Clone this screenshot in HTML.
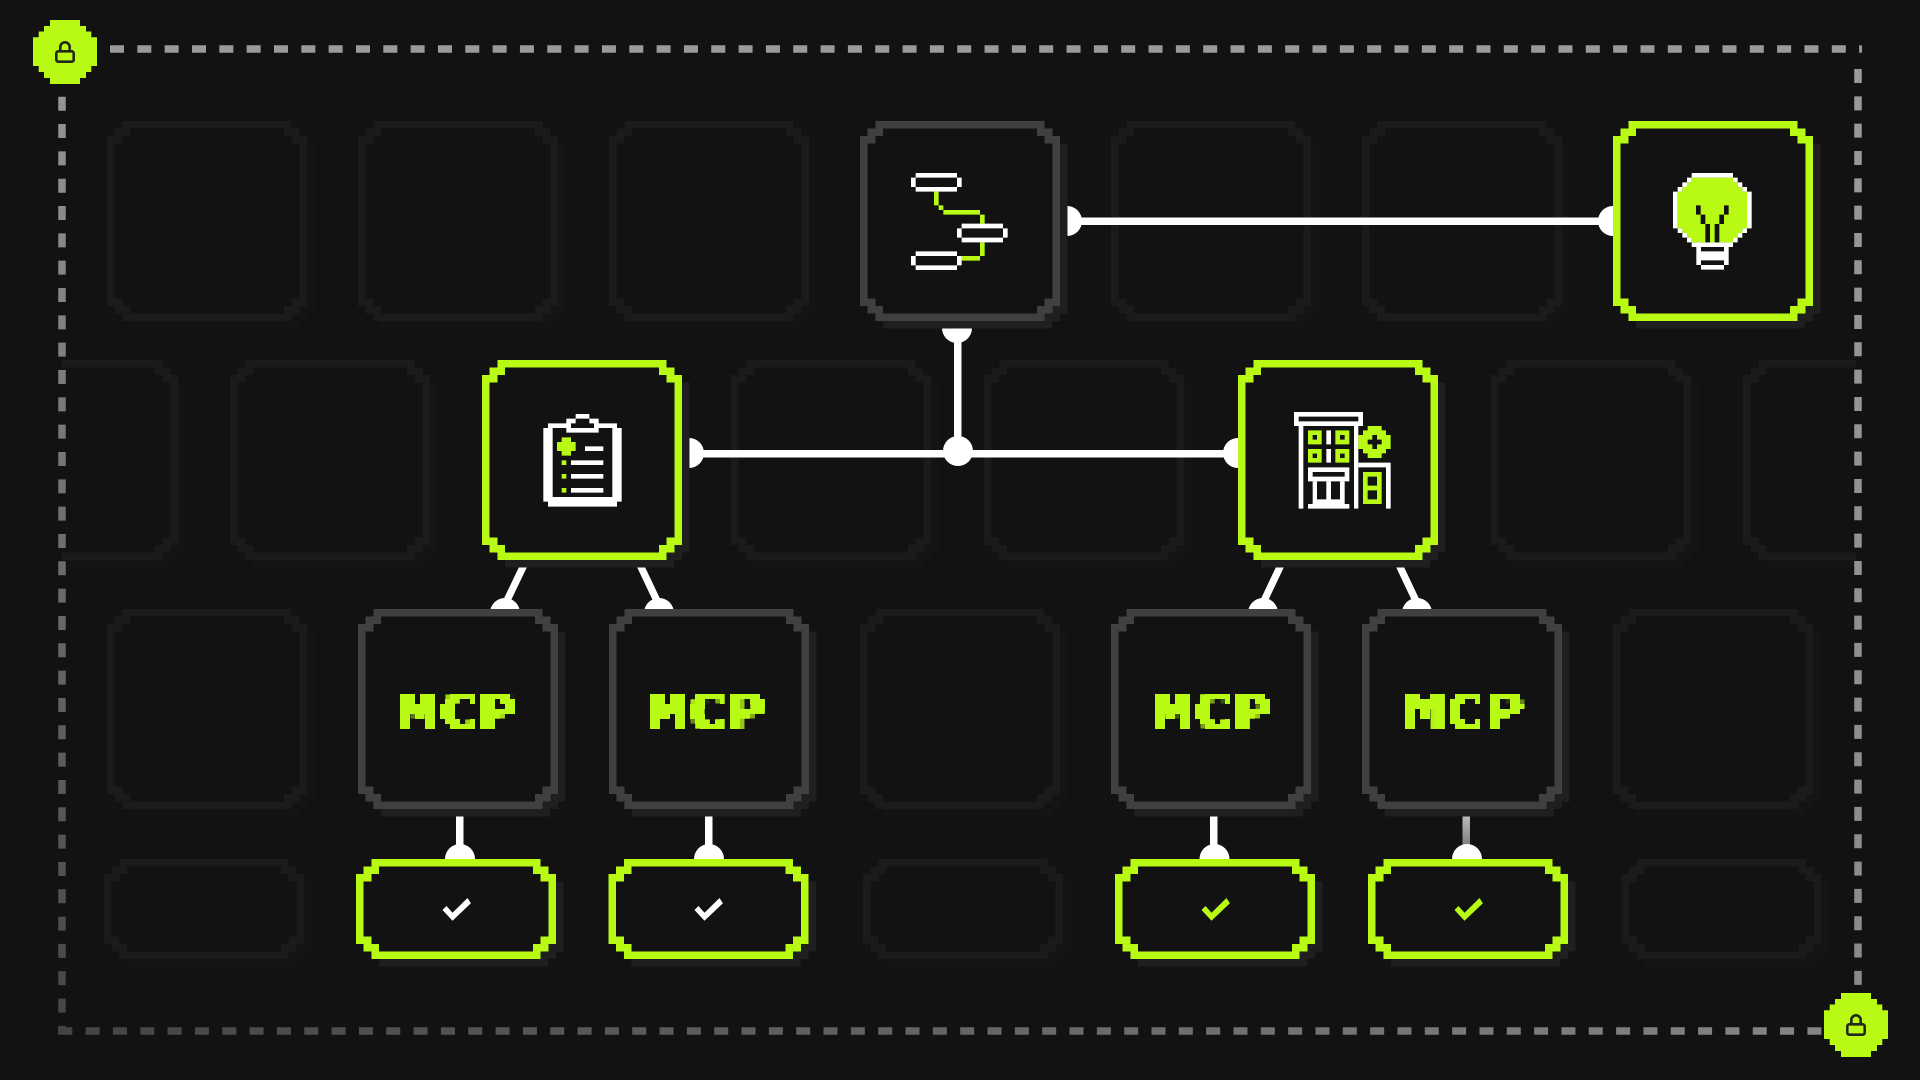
<!DOCTYPE html>
<html lang="en"><head><meta charset="utf-8"><title>Diagram</title>
<style>html,body{margin:0;padding:0;background:#121212;width:1920px;height:1080px;overflow:hidden}svg{display:block}
.mcp{font-family:"DejaVu Sans Mono","Liberation Mono",monospace;font-weight:bold;font-size:48px;fill:#b8fa14;stroke:#b8fa14;stroke-width:1.6px;text-anchor:middle}</style></head>
<body>
<svg width="1920" height="1080" viewBox="0 0 1920 1080" xmlns="http://www.w3.org/2000/svg">
<defs>
<path id="o2" d="M15.5 0H184.5V7.5H192.5V15H200V185H192.5V192.5H184.5V200H15.5V192.5H7.5V185H0V15H7.5V7.5H15.5Z"/>
<path id="f2" fill-rule="evenodd" d="M15.5 0H184.5V7.5H192.5V15H200V185H192.5V192.5H184.5V200H15.5V192.5H7.5V185H0V15H7.5V7.5H15.5ZM23 7.5H177V15H184.5V22.5H192.5V177.5H184.5V185H177V192.5H23V185H15.5V177.5H7.5V22.5H15.5V15H23Z"/>
<path id="o1" d="M15.5 0H184.5V7.5H192.5V15H200V85H192.5V92.5H184.5V100H15.5V92.5H7.5V85H0V15H7.5V7.5H15.5Z"/>
<path id="f1" fill-rule="evenodd" d="M15.5 0H184.5V7.5H192.5V15H200V85H192.5V92.5H184.5V100H15.5V92.5H7.5V85H0V15H7.5V7.5H15.5ZM23 7.5H177V15H184.5V22.5H192.5V77.5H184.5V85H177V92.5H23V85H15.5V77.5H7.5V22.5H15.5V15H23Z"/>
<g id="n2g"><use href="#o2" x="7.5" y="7.5" fill="#1f1f1f"/><use href="#o2" fill="#121212"/><use href="#f2" fill="#b8fa14"/></g>
<g id="n2k"><use href="#o2" x="7.5" y="7.5" fill="#1f1f1f"/><use href="#o2" fill="#121212"/><use href="#f2" fill="#404040"/></g>
<g id="n1g"><use href="#o1" x="7.5" y="7.5" fill="#1f1f1f"/><use href="#o1" fill="#121212"/><use href="#f1" fill="#b8fa14"/></g>
<g id="g2"><use href="#o2" x="7.5" y="7.5" fill="#141414"/><use href="#o2" fill="#121212"/><use href="#f2" fill="#1b1b1b"/></g>
<g id="g1"><use href="#o1" x="7.5" y="7.5" fill="#141414"/><use href="#o1" fill="#121212"/><use href="#f1" fill="#1b1b1b"/></g>
<g id="lock"><path fill="#b8fa14" d="M17 0H47V6H53V11.5H58.3V17.3H64V46H58.3V52H53V58H47V64H17V58H11V52H5.7V46H0V17.3H5.7V11.5H11V6H17Z"/>
<rect x="23.3" y="31.3" width="17.4" height="10.4" rx="2" fill="none" stroke="#23281a" stroke-width="2.6"/><path d="M27.3 31V27a4.7 4.7 0 0 1 9.4 0V31" fill="none" stroke="#23281a" stroke-width="2.6"/></g>
<path id="chk" d="M86.5 51L96.5 61.7L114.9 44.3L111.5 39L96.5 53.7L90.5 47Z"/>
<clipPath id="cl"><rect x="62" y="0" width="1794" height="1080"/></clipPath>
<linearGradient id="dT" gradientUnits="userSpaceOnUse" x1="110" y1="0" x2="1862" y2="0"><stop offset="0" stop-color="#9a9a9a"/><stop offset="1" stop-color="#9a9a9a"/></linearGradient>
<linearGradient id="dL" gradientUnits="userSpaceOnUse" x1="0" y1="96" x2="0" y2="1034"><stop offset="0" stop-color="#959595"/><stop offset="1" stop-color="#444"/></linearGradient>
<linearGradient id="dB" gradientUnits="userSpaceOnUse" x1="60" y1="0" x2="1820" y2="0"><stop offset="0" stop-color="#444"/><stop offset="1" stop-color="#858585"/></linearGradient>
<linearGradient id="dR" gradientUnits="userSpaceOnUse" x1="0" y1="49" x2="0" y2="990"><stop offset="0" stop-color="#9a9a9a"/><stop offset="1" stop-color="#8a8a8a"/></linearGradient>
<linearGradient id="gl" gradientUnits="userSpaceOnUse" x1="0" y1="816" x2="0" y2="850"><stop offset="0" stop-color="#bbb"/><stop offset="1" stop-color="#777"/></linearGradient>
<filter id="px" filterUnits="userSpaceOnUse" primitiveUnits="userSpaceOnUse" x="380" y="684" width="1170" height="55" color-interpolation-filters="sRGB">
<feFlood x="382" y="686" width="1" height="1" flood-color="#b8fa14" result="d"/>
<feComposite in="d" in2="d" operator="over" x="380" y="684" width="5" height="5" result="t"/>
<feTile in="t" result="g"/>
<feComposite in="SourceGraphic" in2="g" operator="in" result="s"/>
<feMorphology in="s" operator="dilate" radius="2"/>
</filter>
</defs>
<rect width="1920" height="1080" fill="#121212"/>

<!-- ghost cells -->
<use href="#g2" x="107" y="121"/><use href="#g2" x="358" y="121"/><use href="#g2" x="609" y="121"/><use href="#g2" x="1111" y="121"/><use href="#g2" x="1362" y="121"/>
<g clip-path="url(#cl)"><use href="#g2" x="-22" y="360"/><use href="#g2" x="230" y="360"/><use href="#g2" x="731" y="360"/><use href="#g2" x="984" y="360"/><use href="#g2" x="1491" y="360"/><use href="#g2" x="1743" y="360"/></g>
<use href="#g2" x="107" y="609"/><use href="#g2" x="860" y="609"/><use href="#g2" x="1613" y="609"/>
<use href="#g1" x="104" y="859"/><use href="#g1" x="863" y="859"/><use href="#g1" x="1621.5" y="859"/>

<!-- dashed boundary -->
<g fill="none" stroke-width="7.5" stroke-dasharray="14 13.33">
<path d="M110 49H1862" stroke="url(#dT)"/>
<path d="M1858 69V990" stroke="url(#dR)" stroke-dashoffset="0"/>
<path d="M62 96.7V1034" stroke="url(#dL)"/>
<path d="M58.3 1031H1830" stroke="url(#dB)"/>
</g>

<!-- connectors -->
<g fill="#fff">
<rect x="1067" y="217.5" width="546" height="7.5"/><circle cx="1067" cy="221" r="15"/><circle cx="1613" cy="221" r="15"/>
<rect x="954" y="328" width="7.5" height="123"/><circle cx="957" cy="328" r="15"/>
<rect x="689" y="450" width="549" height="7.5"/><circle cx="689" cy="453" r="15"/><circle cx="1238" cy="453" r="15"/><circle cx="958" cy="451" r="15"/>
<polygon points="519,567 527,567 508.8,605 500.8,605"/><circle cx="505" cy="613" r="15"/>
<polygon points="637,567 645,567 663,605 655,605"/><circle cx="659" cy="613" r="15"/>
<polygon points="1276,567 1284,567 1266,605 1258,605"/><circle cx="1263" cy="613" r="15"/>
<polygon points="1396,567 1404,567 1422,605 1414,605"/><circle cx="1417" cy="613" r="15"/>
<rect x="456" y="816" width="7.5" height="40"/><circle cx="460" cy="859" r="15"/>
<rect x="705" y="816" width="7.5" height="40"/><circle cx="709" cy="859" r="15"/>
<rect x="1210" y="816" width="7.5" height="40"/><circle cx="1214.5" cy="859" r="15"/>
<rect x="1462.5" y="816" width="7.5" height="40" fill="url(#gl)"/><circle cx="1467" cy="859" r="15"/>
</g>

<!-- nodes -->
<use href="#n2k" x="860" y="121"/>
<use href="#n2g" x="1613" y="121"/>
<use href="#n2g" x="482" y="360"/>
<use href="#n2g" x="1238" y="360"/>
<use href="#n2k" x="358" y="609"/><use href="#n2k" x="609" y="609"/><use href="#n2k" x="1111" y="609"/><use href="#n2k" x="1362" y="609"/>
<use href="#n1g" x="356" y="859"/><use href="#n1g" x="608.5" y="859"/><use href="#n1g" x="1115" y="859"/><use href="#n1g" x="1368" y="859"/>

<!-- MCP labels -->
<g filter="url(#px)">
<text class="mcp" transform="translate(457.5,729) scale(1.38,1)">MCP</text>
<text class="mcp" transform="translate(706.5,729) scale(1.38,1)">MCP</text>
<text class="mcp" transform="translate(1212,729) scale(1.38,1)">MCP</text>
<text class="mcp" transform="translate(1464.5,729) scale(1.38,1)">MCP</text>
</g>

<!-- checks -->
<use href="#chk" x="356" y="859" fill="#fff"/><use href="#chk" x="608" y="859" fill="#fff"/>
<use href="#chk" x="1115" y="859" fill="#b8fa14"/><use href="#chk" x="1368" y="859" fill="#b8fa14"/>

<!-- flowchart icon -->
<g transform="translate(840,100) scale(.33333)">
<path fill="#b8fa14" d="M282 275h14v41h-14zM296 316h14v14h-14zM310 330h110v14H310zM420 344h14v27h-14zM420 427h14v41h-14zM365 468h55v14h-55z"/>
<path fill="#fff" d="M227 219h124v14H227zM227 261h124v14H227zM213 233h14v28h-14zM351 233h14v28h-14zM365 371h124v14H365zM365 413h124v14H365zM351 385h14v28h-14zM489 385h14v28h-14zM227 454h124v14H227zM227 496h124v14H227zM213 468h14v28h-14zM351 468h14v28h-14z"/>
</g>

<!-- bulb icon -->
<g transform="translate(1600,100) scale(.33333)">
<path fill="#b8fa14" d="M275 233h124v14h14v14h14v14h14v110h-14v14h-14v14h-14v14H275v-14h-14v-14h-14v-14h-14V275h14v-14h14v-14h14z"/>
<path fill="#fff" d="M275 219h124v14H275zM261 233h14v14h-14zM247 247h14v14h-14zM233 261h14v14h-14zM219 275h14v110h-14zM233 385h14v14h-14zM247 399h14v14h-14zM261 413h14v14h-14zM399 233h14v14h-14zM413 247h14v14h-14zM427 261h14v14h-14zM441 275h14v110h-14zM427 385h14v14h-14zM413 399h14v14h-14zM399 413h14v14h-14zM275 427h124v14H275zM289 441h14v54h-14zM372 441h14v54h-14zM289 454h97v27h-97zM303 495h69v14h-69z"/>
<path fill="#121212" d="M288 316h14v28h-14zM302 344h14v28h-14zM316 372h14v55h-14zM344 372h14v55h-14zM358 344h14v28h-14zM372 316h14v28h-14z"/>
</g>

<!-- clipboard icon -->
<g transform="translate(470,350) scale(.33333)">
<path fill="#fff" d="M220 234h235v221H220zM234 220h207v14H234zM234 455h207v15H234z"/>
<path fill="#121212" d="M248 234h179v207H248z"/>
<path fill="#fff" d="M289 206h97v42h-97zM317 192h41v14h-41z"/>
<path fill="#121212" d="M317 206h41v14h-41zM303 220h69v14h-69z"/>
<path fill="#b8fa14" d="M275 262h28v14h14v27h-14v14h-28v-14h-14v-27h14zM275 331h14v14h-14zM275 372h14v14h-14zM275 414h14v14h-14z"/>
<path fill="#fff" d="M345 289h55v14h-55zM303 331h97v14h-97zM303 372h97v14h-97zM303 414h97v14h-97z"/>
</g>

<!-- building icon -->
<g transform="translate(1220,350) scale(.33333)">
<path fill="#fff" d="M222 186h207v42H222z"/><path fill="#121212" d="M236 200h179v14H236z"/>
<path fill="#fff" d="M236 228h14v248h-14zM402 228h13v248h-13zM319 241h14v42h-14zM319 297h14v41h-14zM264 352h124v42H264z"/>
<path fill="#121212" d="M278 366h96v14h-96z"/>
<path fill="#fff" d="M278 394h13v68h-13zM319 394h14v68h-14zM360 394h14v68h-14zM278 448h96v14h-96zM264 462h124v14H264zM415 338h97v14h-97zM498 338h14v138h-14z"/>
<path fill="#b8fa14" fill-rule="evenodd" d="M264 241h41v42h-41zM278 255v14h13v-14zM346 241h42v42h-42zM360 255v14h14v-14zM264 297h41v41h-41zM278 311v13h13v-13zM346 297h42v41h-42zM360 311v13h14v-13zM429 366h56v96h-56zM443 380v27h28v-27zM443 421v27h28v-27z"/>
<path fill="#b8fa14" d="M443 228h42v13h13v14h14v42h-14v13h-13v14h-42v-14h-14v-13h-14v-42h14v-14h14z"/>
<path fill="#121212" d="M457 255h14v14h14v14h-14v14h-14v-14h-14v-14h14z"/>
</g>

<!-- lock badges -->
<use href="#lock" x="33" y="20"/>
<use href="#lock" x="1824" y="993"/>
</svg>
</body></html>
